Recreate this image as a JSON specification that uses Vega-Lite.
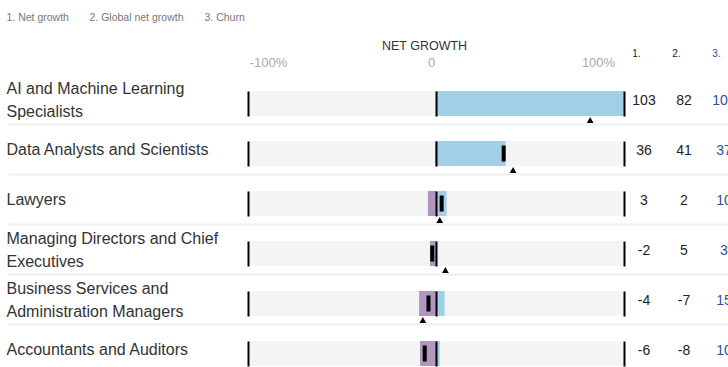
{
  "$schema": "https://vega.github.io/schema/vega-lite/v6.json",
  "padding": {"left": 6, "top": 13, "right": 0, "bottom": 0},
  "config": {"font": "Liberation Sans", "view": {"stroke": null}},
  "datasets": {
    "jobs": [
      {"job": "AI and Machine Learning|Specialists", "net": 103, "global": 82, "churn": 103, "growth": 103, "decline": 0},
      {"job": "Data Analysts and Scientists", "net": 36, "global": 41, "churn": 37, "growth": 37, "decline": -0.5},
      {"job": "Lawyers", "net": 3, "global": 2, "churn": 10, "growth": 5.7, "decline": -4.3},
      {"job": "Managing Directors and Chief|Executives", "net": -2, "global": 5, "churn": 3, "growth": 0.5, "decline": -3.2},
      {"job": "Business Services and|Administration Managers", "net": -4, "global": -7, "churn": 15, "growth": 4.6, "decline": -9.0},
      {"job": "Accountants and Auditors", "net": -6, "global": -8, "churn": 10, "growth": 2.0, "decline": -8.5}
    ]
  },
  "spacing": 0,
  "bounds": "flush",
  "hconcat": [
    {
      "width": 376,
      "height": 300,
      "data": {"name": "jobs"},
      "encoding": {
        "y": {
          "field": "job", "type": "nominal", "sort": null,
          "scale": {"paddingInner": 0, "paddingOuter": 0},
          "axis": {
            "title": null, "domain": false,
            "grid": true, "gridColor": "#eeeeee", "gridWidth": 2,
            "ticks": true, "tickSize": 240, "tickColor": "#eeeeee", "tickWidth": 2, "tickOffset": 25,
            "labelOffset": {"condition": {"test": "indexof(datum.value, '|') >= 0", "value": -35.5}, "value": -24.5},
            "labelAlign": "left", "labelPadding": 2, "labelBaseline": "middle",
            "labelLineHeight": 23, "labelFontSize": 16, "labelColor": "#333333", "labelLimit": 400,
            "labelExpr": "split(datum.label, '|')"
          }
        }
      },
      "layer": [
        {
          "mark": {"type": "rect", "color": "#f4f4f4", "height": 25, "yOffset": 4.5}
        },
        {
          "mark": {"type": "bar", "color": "#b196c0", "size": 25, "yOffset": 4.5},
          "encoding": {
            "x": {
              "field": "decline", "type": "quantitative", "stack": null,
              "scale": {"domain": [-100, 100], "nice": false},
              "axis": {
                "orient": "top", "title": "NET GROWTH", "values": [-100, 0, 100],
                "ticks": false, "domain": false, "zindex": 1,
                "grid": true, "gridColor": "#000000", "gridWidth": 2, "gridDash": [25, 25], "gridDashOffset": 33,
                "labelExpr": "datum.value == 0 ? '0' : datum.value + '%'",
                "labelFontSize": 13, "labelColor": "#aaaaaa", "labelPadding": 5,
                "labelAlign": "center",
                "labelOffset": {"condition": [{"test": "datum.value < 0", "value": 20}, {"test": "datum.value > 0", "value": -26}], "value": -5},
                "titleFont": "Liberation Sans", "titleFontSize": 12.5, "titleFontWeight": "normal",
                "titleColor": "#333333", "titlePadding": 4, "titleX": 176
              }
            }
          }
        },
        {
          "mark": {"type": "bar", "color": "#a3cfe6", "size": 25, "yOffset": 4.5, "clip": true},
          "encoding": {"x": {"field": "growth", "type": "quantitative", "stack": null}}
        },
        {
          "mark": {"type": "tick", "color": "#000000", "thickness": 4, "size": 16, "yOffset": 4.5, "opacity": 1, "clip": true},
          "encoding": {"x": {"field": "net", "type": "quantitative"}}
        },
        {
          "mark": {"type": "point", "shape": "triangle-up", "filled": true, "color": "#000000", "size": 45, "opacity": 1, "yOffset": 21},
          "encoding": {"x": {"field": "global", "type": "quantitative"}}
        }
      ]
    },
    {
      "width": 120,
      "height": 300,
      "data": {"name": "jobs"},
      "transform": [{"fold": ["net", "global", "churn"], "as": ["measure", "value"]}],
      "mark": {"type": "text", "fontSize": 14, "dy": 1.5, "baseline": "middle"},
      "encoding": {
        "y": {
          "field": "job", "type": "nominal", "sort": null,
          "scale": {"paddingInner": 0, "paddingOuter": 0},
          "axis": {"title": null, "labels": false, "ticks": false, "domain": false, "grid": true, "gridColor": "#eeeeee", "gridWidth": 2, "tickOffset": 25}
        },
        "x": {
          "field": "measure", "type": "nominal", "sort": ["net", "global", "churn"],
          "scale": {"paddingInner": 0, "paddingOuter": 0},
          "axis": {
            "orient": "top", "title": null, "ticks": false, "domain": false, "labelAngle": 0, "grid": false,
            "labelFontSize": 10, "labelPadding": 16, "labelOffset": -8,
            "labelExpr": "datum.label == 'net' ? '1.' : datum.label == 'global' ? '2.' : '3.'",
            "labelColor": {"condition": {"test": "datum.value == 'churn'", "value": "#2d4f9e"}, "value": "#222222"}
          }
        },
        "text": {"field": "value", "type": "nominal"},
        "color": {
          "field": "measure", "type": "nominal",
          "scale": {"domain": ["net", "global", "churn"], "range": ["#222222", "#222222", "#2d4f9e"]},
          "legend": {
            "orient": "none", "legendX": -240, "legendY": -61, "direction": "horizontal", "title": null,
            "symbolOpacity": 0, "symbolSize": 0, "symbolStrokeWidth": 0, "labelOffset": -12,
            "labelFontSize": 10.5, "labelColor": "#777777", "columnPadding": 20,
            "labelExpr": "datum.label == 'net' ? '1. Net growth' : datum.label == 'global' ? '2. Global net growth' : '3. Churn'"
          }
        }
      }
    }
  ]
}
